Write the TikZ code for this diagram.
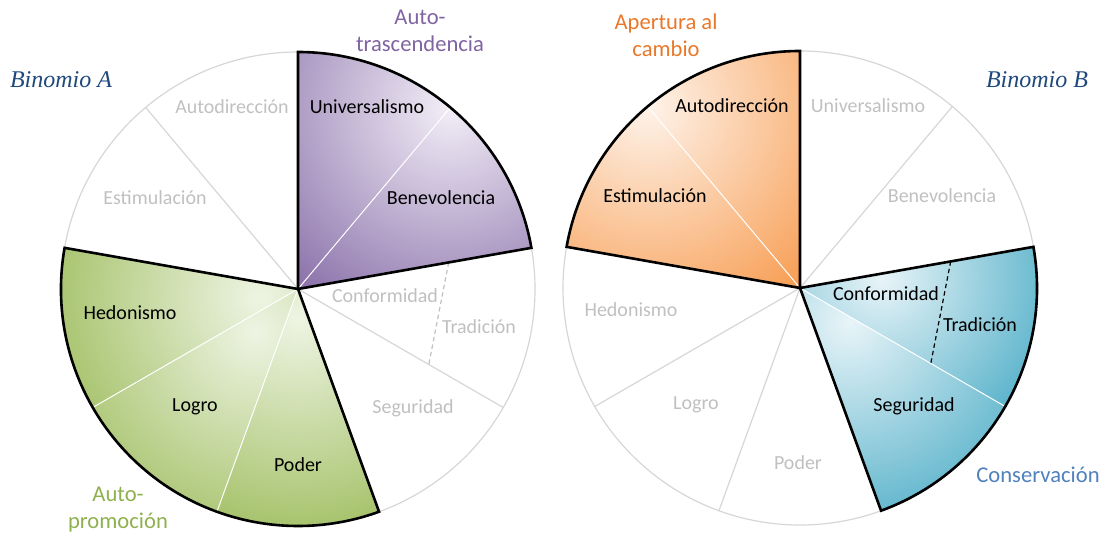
\documentclass[tikz,border=0pt]{standalone}
\usepackage{fontspec}
\setmainfont{Carlito}
\newfontfamily\binfont{Liberation Serif}

\definecolor{purpleL}{HTML}{F2EEF7}
\definecolor{purpleD}{HTML}{8064A2}
\definecolor{greenL}{HTML}{EEF4E3}
\definecolor{greenD}{HTML}{9BBB59}
\definecolor{orangeL}{HTML}{FEF3EA}
\definecolor{orangeD}{HTML}{F79646}
\definecolor{blueL}{HTML}{E8F4F8}
\definecolor{blueD}{HTML}{4BACC6}
\definecolor{ringgray}{HTML}{D6D6D6}
\definecolor{textgray}{HTML}{C0C0C0}
\definecolor{binblue}{HTML}{1F497D}
\definecolor{txtpurple}{HTML}{8064A2}
\definecolor{txtgreen}{HTML}{8FB04E}
\definecolor{txtorange}{HTML}{E9782A}
\definecolor{txtblue}{HTML}{4F81BD}

\def\pieR{237}

% one shaded slice: centre, start, end, light spot, shade radius, light, dark
\newcommand{\slicefill}[7]{%
  \begin{scope}
    \clip (#1) -- ++(#2:\pieR) arc[start angle=#2, end angle=#3, radius=\pieR] -- cycle;
    \shade[inner color=#6, outer color=#7] ([shift={(#4)}]#1) circle[radius=#5];
  \end{scope}}

\begin{document}
\begin{tikzpicture}[
                x=0.5pt, y=0.5pt,
                ring/.style={draw=ringgray, line width=0.6pt},
                grpline/.style={draw=black, line width=1.3pt},
                sepline/.style={draw=white, line width=0.5pt},
                dashline/.style={line width=0.6pt, dash pattern=on 2.2pt off 1.6pt},
                lbl/.style={font=\fontsize{10}{12}\selectfont, text=black, inner sep=0pt},
                lblgray/.style={lbl, text=textgray},
                grouplbl/.style={font=\fontsize{11.3}{13.5}\selectfont, align=center, inner sep=0pt},
                binlbl/.style={font=\binfont\itshape\fontsize{12}{14}\selectfont, text=binblue, inner sep=0pt}
            ]
            \useasboundingbox (0,0) rectangle (1102,535);

            % Centres of both circles
            \coordinate (cA) at (298,246);
            \coordinate (cB) at (800,247);

            %% Binomio A
            % Plain ring and thin grey dividers
            \draw[ring] (cA) circle[radius=\pieR];
            \draw[ring] (cA) -- ++(130:\pieR);
            \draw[ring] (cA) -- ++(-30:\pieR);
            \draw[dashline, draw=textgray] ([shift={(10:153)}]cA) -- ([shift={(-30:151)}]cA);

            % Auto-trascendencia slices
            \slicefill{cA}{90}{50}{50:\pieR}{260}{purpleL}{purpleD}
            \slicefill{cA}{50}{10}{50:\pieR}{260}{purpleL}{purpleD}
            \draw[sepline] (cA) -- ++(50:\pieR);
            \draw[grpline] (cA) -- ++(90:\pieR) arc[start angle=90, end angle=10, radius=\pieR] -- cycle;

            % Auto-promocion slices
            \slicefill{cA}{-190}{-150}{-168:40}{245}{greenL}{greenD}
            \slicefill{cA}{-150}{-110}{-135:60}{245}{greenL}{greenD}
            \slicefill{cA}{-110}{-70}{-90:30}{245}{greenL}{greenD}
            \draw[sepline] (cA) -- ++(-150:\pieR);
            \draw[sepline] (cA) -- ++(-110:\pieR);
            \draw[grpline] (cA) -- ++(170:\pieR) arc[start angle=170, end angle=290, radius=\pieR] -- cycle;

            % Slice labels
            \node[lbl] (univA) at ([shift={(69,182)}]cA) {Universalismo};
            \node[lbl] (beneA) at ([shift={(143,91)}]cA) {Benevolencia};
            \node[lblgray] (confA) at ([shift={(87,-7)}]cA) {Conformidad};
            \node[lblgray] (tradA) at ([shift={(181,-38)}]cA) {Tradición};
            \node[lblgray] (seguA) at ([shift={(115,-119)}]cA) {Seguridad};
            \node[lbl] (podeA) at ([shift={(0,-176)}]cA) {Poder};
            \node[lbl] (logrA) at ([shift={(-103,-118)}]cA) {Logro};
            \node[lbl] (hedoA) at ([shift={(-168,-24)}]cA) {Hedonismo};
            \node[lblgray] (estiA) at ([shift={(-143,91)}]cA) {Estimulación};
            \node[lblgray] (autoA) at ([shift={(-66,182)}]cA) {Autodirección};

            %% Binomio B
            % Plain ring and thin grey dividers
            \draw[ring] (cB) circle[radius=\pieR];
            \draw[ring] (cB) -- ++(50:\pieR);
            \draw[ring] (cB) -- ++(-110:\pieR);
            \draw[ring] (cB) -- ++(-150:\pieR);

            % Apertura al cambio slices
            \slicefill{cB}{90}{130}{130:\pieR}{255}{orangeL}{orangeD}
            \slicefill{cB}{130}{170}{130:\pieR}{255}{orangeL}{orangeD}
            \draw[sepline] (cB) -- ++(130:\pieR);
            \draw[grpline] (cB) -- ++(90:\pieR) arc[start angle=90, end angle=170, radius=\pieR] -- cycle;

            % Conservacion slices
            \slicefill{cB}{10}{-30}{7:82}{200}{blueL}{blueD}
            \slicefill{cB}{-30}{-70}{-35:60}{230}{blueL}{blueD}
            \draw[sepline] (cB) -- ++(-30:\pieR);
            \draw[dashline, draw=black] ([shift={(10:153)}]cB) -- ([shift={(-30:151)}]cB);
            \draw[grpline] (cB) -- ++(10:\pieR) arc[start angle=10, end angle=-70, radius=\pieR] -- cycle;

            % Slice labels
            \node[lbl] (autoB) at ([shift={(-68,182)}]cB) {Autodirección};
            \node[lblgray] (univB) at ([shift={(68,182)}]cB) {Universalismo};
            \node[lbl] (estiB) at ([shift={(-145,92)}]cB) {Estimulación};
            \node[lblgray] (beneB) at ([shift={(142,92)}]cB) {Benevolencia};
            \node[lbl] (confB) at ([shift={(86,-6)}]cB) {Conformidad};
            \node[lbl] (tradB) at ([shift={(180,-37)}]cB) {Tradición};
            \node[lbl] (seguB) at ([shift={(114,-118)}]cB) {Seguridad};
            \node[lblgray] (podeB) at ([shift={(-2,-175)}]cB) {Poder};
            \node[lblgray] (logrB) at ([shift={(-104,-117)}]cB) {Logro};
            \node[lblgray] (hedoB) at ([shift={(-169,-22)}]cB) {Hedonismo};

            % Group names
            \node[grouplbl, text=txtpurple] (trasc) at (420,504) {Auto-\\trascendencia};
            \node[grouplbl, text=txtgreen] (promo) at (118,25) {Auto-\\promoción};
            \node[grouplbl, text=txtorange] (apert) at (666,500) {Apertura al\\cambio};
            \node[grouplbl, text=txtblue] (conse) at (1038,60) {Conservación};
            \node[binlbl] (binA) at (61,455) {Binomio A};
            \node[binlbl] (binB) at (1037,455) {Binomio B};

        \end{tikzpicture}
\end{document}
